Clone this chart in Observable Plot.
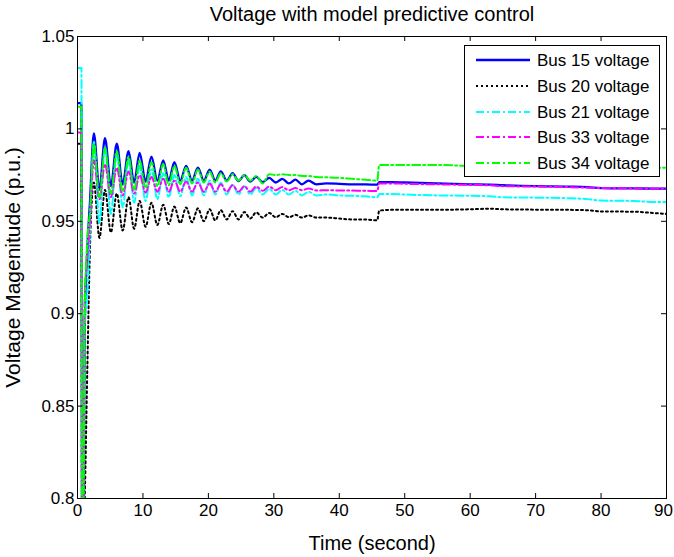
<!DOCTYPE html>
<html><head><meta charset="utf-8">
<script src="https://cdn.jsdelivr.net/npm/d3@7"></script>
<script src="https://cdn.jsdelivr.net/npm/@observablehq/plot@0.6"></script>
<style>
body{margin:0;background:#fff;}
#wrap{position:relative;width:674px;height:557px;font-family:"Liberation Sans",Arial,sans-serif;}
#legend{position:absolute;left:464px;top:45px;width:196px;height:132px;border:1px solid #000;background:#fff;box-sizing:border-box;}
</style></head><body><div id="wrap"></div>
<script>
const titleText = "Voltage with model predictive control";
const xLabel = "Time (second)";
const yLabel = "Voltage Magenitude (p.u.)";
const seriesNames = ["Bus 15 voltage","Bus 20 voltage","Bus 21 voltage","Bus 33 voltage","Bus 34 voltage"];
const seriesColors = ["#0000ff","#000000","#00ffff","#ff00ff","#00ff00"];
const seriesDash = ["none","2,3","8,3,2,3","8,3,2,3","8,3,2,3"];
const xTicks = [0,10,20,30,40,50,60,70,80,90];
const yTicks = [0.8,0.85,0.9,0.95,1,1.05];
const yTickLabels = ["0.8","0.85","0.9","0.95","1","1.05"];

const times = [0,0.6,0.7,0.9,1.1,1.5,1.9,
 2.5,3.35,4.2,5.1,6.0,6.9,7.8,8.65,9.5,10.4,
 11.3,12.2,13.1,13.95,14.8,15.7,16.6,17.5,18.4,19.3,
 20.2,21.05,21.9,22.8,23.7,24.6,25.5,26.4,27.3,28.3,
 29.3,30.3,31.3,32.3,33.3,34.3,35.3,36.5,
 38,40,42,44,45.8,46.1,48,50,55,60,
 63,65,70,75,78,80,85,88,90];

const bus15 = [1.014,1.014,0.77,0.78,0.89,0.935,0.96,
 0.9975,0.967,0.995,0.969,0.992,0.970,0.988,0.971,0.987,0.9715,
 0.985,0.972,0.983,0.972,0.982,0.972,0.980,0.972,0.979,0.972,
 0.978,0.972,0.977,0.972,0.976,0.9718,0.975,0.9715,0.974,0.9712,
 0.9735,0.971,0.973,0.9705,0.9725,0.970,0.972,0.970,
 0.9705,0.9703,0.970,0.970,0.9698,0.9712,0.9712,0.971,0.9705,0.970,
 0.9698,0.9695,0.969,0.9688,0.9685,0.968,0.9678,0.9677,0.9677];

const bus20 = [0.992,0.992,0.77,0.78,0.80,0.87,0.935,
 0.971,0.941,0.967,0.944,0.965,0.945,0.963,0.946,0.961,0.947,
 0.960,0.948,0.959,0.9485,0.958,0.949,0.9575,0.9495,0.957,0.950,
 0.9565,0.9505,0.956,0.951,0.9555,0.951,0.955,0.9515,0.9548,0.952,
 0.9545,0.9522,0.954,0.9522,0.9535,0.952,0.9532,0.952,
 0.952,0.9515,0.951,0.951,0.9505,0.9558,0.9562,0.9562,0.9562,0.9565,
 0.9568,0.9565,0.9563,0.9562,0.956,0.9553,0.9552,0.9545,0.954];

const bus21 = [1.033,1.033,0.77,0.80,0.895,0.91,0.945,
 0.993,0.949,0.990,0.954,0.986,0.9575,0.983,0.960,0.980,0.961,
 0.978,0.962,0.976,0.963,0.975,0.9635,0.974,0.964,0.973,0.964,
 0.972,0.9645,0.971,0.9645,0.970,0.9645,0.969,0.9645,0.968,0.9645,
 0.9675,0.9645,0.967,0.9645,0.9665,0.964,0.966,0.964,
 0.9645,0.964,0.9638,0.9635,0.963,0.9648,0.9648,0.9645,0.964,0.9638,
 0.9635,0.963,0.9628,0.9625,0.962,0.9612,0.961,0.9605,0.9605];

const bus33 = [0.998,0.998,0.77,0.80,0.91,0.93,0.95,
 0.983,0.962,0.981,0.963,0.979,0.964,0.977,0.965,0.975,0.9655,
 0.974,0.966,0.973,0.966,0.972,0.966,0.9715,0.966,0.971,0.966,
 0.9705,0.966,0.970,0.966,0.9695,0.966,0.969,0.966,0.9688,0.9665,
 0.9688,0.9668,0.9685,0.9668,0.968,0.9668,0.9678,0.9667,
 0.9668,0.9667,0.9666,0.9665,0.9664,0.9705,0.9705,0.9703,0.970,0.9697,
 0.9695,0.969,0.9688,0.9685,0.9682,0.968,0.9678,0.9677,0.9677];

const bus34 = [1.012,1.012,0.77,0.79,0.90,0.94,0.955,
 0.992,0.963,0.990,0.965,0.988,0.966,0.985,0.967,0.983,0.968,
 0.982,0.969,0.981,0.9695,0.980,0.970,0.979,0.9705,0.978,0.971,
 0.977,0.971,0.976,0.9715,0.9755,0.972,0.975,0.972,0.9745,0.9705,
 0.9755,0.975,0.9755,0.975,0.975,0.9745,0.9745,0.974,
 0.9738,0.9735,0.973,0.9725,0.972,0.9805,0.9805,0.9805,0.9805,0.980,
 0.980,0.980,0.980,0.980,0.980,0.9795,0.9795,0.979,0.979];

const seriesValues = [bus15,bus20,bus21,bus33,bus34];

const W = 674, H = 557, mL = 77, mR = 8, mT = 36, mB = 59;
const fw = W - mL - mR, fh = H - mT - mB;

const lineMarks = seriesValues.map((vals, k) => {
  const data = times.map((t, i) => ({t, v: vals[i]}));
  const opts = {x: "t", y: "v", stroke: seriesColors[k], strokeWidth: k === 0 ? 2.3 : 2, curve: "monotone-x", clip: true};
  if (seriesDash[k] !== "none") opts.strokeDasharray = seriesDash[k];
  return Plot.line(data, opts);
});

const xTicksInner = xTicks.slice(0, -1);
const xTicksLast = xTicks.slice(-1);

const chart = Plot.plot({
  width: W, height: H,
  marginLeft: mL, marginRight: mR, marginTop: mT, marginBottom: mB,
  style: {fontFamily: "'Liberation Sans', Arial, sans-serif", fontSize: "17px", color: "#000", background: "#fff"},
  x: {domain: [0, 90]},
  y: {domain: [0.8, 1.05]},
  marks: [
    ...lineMarks,
    Plot.frame({stroke: "#000"}),
    Plot.tickX(xTicks, {x: d => d, insetTop: fh - 5, stroke: "#000"}),
    Plot.tickX(xTicks, {x: d => d, insetBottom: fh - 5, stroke: "#000"}),
    Plot.tickY(yTicks, {y: d => d, insetRight: fw - 5, stroke: "#000"}),
    Plot.tickY(yTicks, {y: d => d, insetLeft: fw - 5, stroke: "#000"}),
    Plot.axisX({ticks: xTicksInner, tickSize: 0, tickPadding: 5, fontSize: 17, label: null, tickFormat: d => String(d)}),
    Plot.axisX({ticks: xTicksLast, tickSize: 0, tickPadding: 5, fontSize: 17, label: null, tickFormat: d => String(d), dx: -3}),
    Plot.axisY({ticks: yTicks, tickSize: 0, tickPadding: 3, fontSize: 17, label: null, tickFormat: d => yTickLabels[yTicks.indexOf(d)]}),
    Plot.text([titleText], {text: d => d, frameAnchor: "top", textAnchor: "middle", lineAnchor: "middle", dy: -22, fontSize: 20}),
    Plot.text([xLabel], {text: d => d, frameAnchor: "bottom", textAnchor: "middle", lineAnchor: "middle", dy: 45, fontSize: 20}),
    Plot.text([yLabel], {text: d => d, frameAnchor: "left", textAnchor: "middle", lineAnchor: "middle", rotate: -90, dx: -64, fontSize: 21})
  ]
});

const wrap = document.getElementById("wrap");
wrap.appendChild(chart);

// legend box overlay
const leg = d3.select(wrap).append("div").attr("id", "legend");
const lsvg = leg.append("svg").attr("width", 194).attr("height", 130).style("display", "block");
const rowY = [14, 40, 66, 91, 117];
seriesNames.forEach((name, k) => {
  const ln = lsvg.append("line").attr("x1", 11).attr("x2", 65).attr("y1", rowY[k]).attr("y2", rowY[k])
    .attr("stroke", seriesColors[k]).attr("stroke-width", k === 0 ? 2.3 : 2);
  if (seriesDash[k] !== "none") ln.attr("stroke-dasharray", seriesDash[k]);
  lsvg.append("text").attr("x", 72).attr("y", rowY[k]).attr("dy", "0.35em")
    .attr("font-family", "'Liberation Sans', Arial, sans-serif").attr("font-size", 17).text(name);
});
</script></body></html>
